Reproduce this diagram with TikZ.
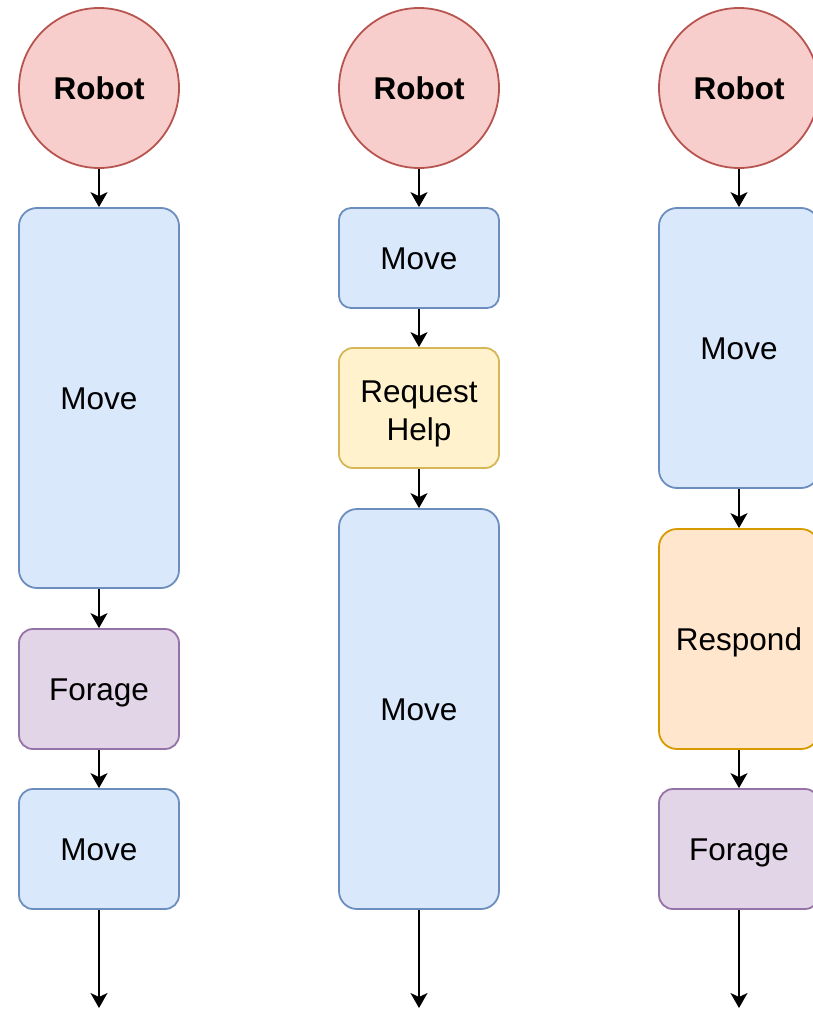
\documentclass[tikz,border=0pt]{standalone}
\usepackage{fontspec}
\setmainfont{Liberation Sans}
\usetikzlibrary{arrows.meta}

\definecolor{bluefill}{HTML}{DAE8FC}
\definecolor{blueline}{HTML}{6C8EBF}
\definecolor{redfill}{HTML}{F8CECC}
\definecolor{redline}{HTML}{B85450}
\definecolor{purplefill}{HTML}{E1D5E7}
\definecolor{purpleline}{HTML}{9673A6}
\definecolor{yellowfill}{HTML}{FFF2CC}
\definecolor{yellowline}{HTML}{D6B656}
\definecolor{orangefill}{HTML}{FFE6CC}
\definecolor{orangeline}{HTML}{D79B00}

\tikzset{
  lbl/.style={font=\fontsize{31.5}{38}\selectfont, align=center, text=black,
    text height=22.5pt, text depth=0pt},
  robot/.style={lbl, circle, draw=redline, fill=redfill, line width=1.8pt,
    minimum size=160pt, inner sep=0pt, font=\fontsize{31.5}{38}\selectfont\bfseries},
  card/.style={lbl, rectangle, line width=1.8pt, minimum width=160pt,
    inner sep=0pt},
  movebox/.style={card, draw=blueline, fill=bluefill},
  foragebox/.style={card, draw=purpleline, fill=purplefill},
  helpbox/.style={card, draw=yellowline, fill=yellowfill},
  respondbox/.style={card, draw=orangeline, fill=orangefill},
  arr/.style={line width=1.8pt, black,
    -{Stealth[length=15pt, width=17pt, inset=4pt]}},
}

\begin{document}
\begin{tikzpicture}[x=1pt, y=-1pt]
  \useasboundingbox (0,0) rectangle (813,1011);

  % first column
  \node[robot] (r1) at (99,88) {Robot};
  \node[movebox, minimum height=380pt, rounded corners=18pt] (m1a) at (99,398) {Move};
  \node[foragebox, minimum height=120pt, rounded corners=14pt] (f1) at (99,689) {Forage};
  \node[movebox, minimum height=120pt, rounded corners=14pt] (m1b) at (99,849) {Move};
  \coordinate (e1) at (99,1008);
  \draw[arr] (r1) -- (m1a);
  \draw[arr] (m1a) -- (f1);
  \draw[arr] (f1) -- (m1b);
  \draw[arr] (m1b) -- (e1);

  % second column
  \node[robot] (r2) at (419,88) {Robot};
  \node[movebox, minimum height=100pt, rounded corners=12pt] (m2a) at (419,258) {Move};
  \node[helpbox, minimum height=120pt, rounded corners=14pt, text height=64.5pt] (h2) at (419,408) {Request\\Help};
  \node[movebox, minimum height=400pt, rounded corners=18pt] (m2b) at (419,709) {Move};
  \coordinate (e2) at (419,1008);
  \draw[arr] (r2) -- (m2a);
  \draw[arr] (m2a) -- (h2);
  \draw[arr] (h2) -- (m2b);
  \draw[arr] (m2b) -- (e2);

  % third column
  \node[robot] (r3) at (739,88) {Robot};
  \node[movebox, minimum height=280pt, rounded corners=18pt] (m3) at (739,348) {Move};
  \node[respondbox, minimum height=220pt, rounded corners=18pt] (p3) at (739,639) {Respond};
  \node[foragebox, minimum height=120pt, rounded corners=14pt] (f3) at (739,849) {Forage};
  \coordinate (e3) at (739,1008);
  \draw[arr] (r3) -- (m3);
  \draw[arr] (m3) -- (p3);
  \draw[arr] (p3) -- (f3);
  \draw[arr] (f3) -- (e3);
\end{tikzpicture}
\end{document}
